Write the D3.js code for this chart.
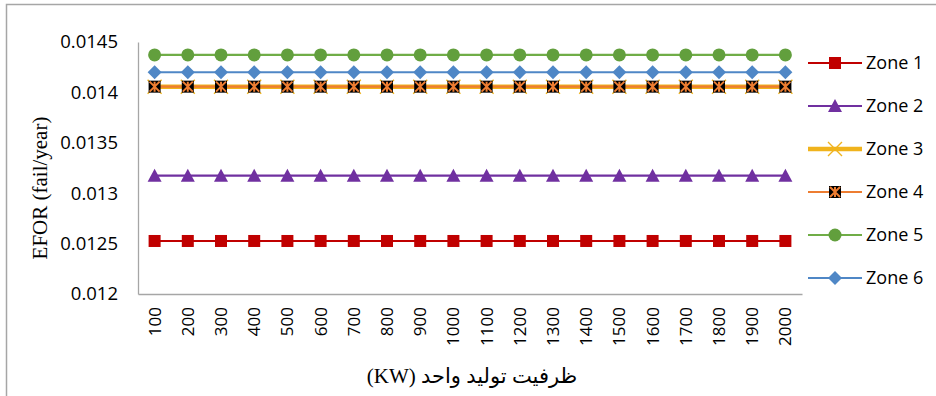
<!DOCTYPE html>
<html>
<head>
<meta charset="utf-8">
<script src="https://cdn.jsdelivr.net/npm/d3@7"></script>
<style>
  html, body { margin: 0; padding: 0; background: #fff; }
  svg { display: block; }
  .tick text { font-family: "Open Sans", sans-serif; fill: #000; }
</style>
</head>
<body>
<svg id="chart" width="936" height="396"></svg>
<script>
// Unit capacity categories (KW)
const capacities = ["100","200","300","400","500","600","700","800","900","1000",
                    "1100","1200","1300","1400","1500","1600","1700","1800","1900","2000"];

// EFOR per zone (fail/year) for each capacity
const zone1 = [0.012526,0.012526,0.012526,0.012526,0.012526,0.012526,0.012526,0.012526,0.012526,0.012526,
               0.012526,0.012526,0.012526,0.012526,0.012526,0.012526,0.012526,0.012526,0.012526,0.012526];
const zone2 = [0.013174,0.013174,0.013174,0.013174,0.013174,0.013174,0.013174,0.013174,0.013174,0.013174,
               0.013174,0.013174,0.013174,0.013174,0.013174,0.013174,0.013174,0.013174,0.013174,0.013174];
const zone3 = [0.014057,0.014057,0.014057,0.014057,0.014057,0.014057,0.014057,0.014057,0.014057,0.014057,
               0.014057,0.014057,0.014057,0.014057,0.014057,0.014057,0.014057,0.014057,0.014057,0.014057];
const zone4 = [0.014057,0.014057,0.014057,0.014057,0.014057,0.014057,0.014057,0.014057,0.014057,0.014057,
               0.014057,0.014057,0.014057,0.014057,0.014057,0.014057,0.014057,0.014057,0.014057,0.014057];
const zone5 = [0.014372,0.014372,0.014372,0.014372,0.014372,0.014372,0.014372,0.014372,0.014372,0.014372,
               0.014372,0.014372,0.014372,0.014372,0.014372,0.014372,0.014372,0.014372,0.014372,0.014372];
const zone6 = [0.014200,0.014200,0.014200,0.014200,0.014200,0.014200,0.014200,0.014200,0.014200,0.014200,
               0.014200,0.014200,0.014200,0.014200,0.014200,0.014200,0.014200,0.014200,0.014200,0.014200];

const yTicks = [0.012, 0.0125, 0.013, 0.0135, 0.014, 0.0145];
const yTickLabels = ["0.012", "0.0125", "0.013", "0.0135", "0.014", "0.0145"];

const seriesNames = ["Zone 1", "Zone 2", "Zone 3", "Zone 4", "Zone 5", "Zone 6"];

const series = [
  { name: seriesNames[0], values: zone1, color: "#c00000", width: 2.2, marker: "square" },
  { name: seriesNames[1], values: zone2, color: "#7030a0", width: 2.2, marker: "triangle" },
  { name: seriesNames[2], values: zone3, color: "#f0b31c", width: 4.5, marker: "x" },
  { name: seriesNames[3], values: zone4, color: "#ed7d31", width: 2.2, marker: "boxstar" },
  { name: seriesNames[4], values: zone5, color: "#70ad47", width: 2.2, marker: "circle" },
  { name: seriesNames[5], values: zone6, color: "#4f87c6", width: 2.2, marker: "diamond" }
];

const svg = d3.select("#chart");
const margin = { left: 138, top: 42, right: 802, bottom: 294 };

// Outer frame (top and left edges visible)
svg.append("path")
  .attr("d", "M6.5,396 L6.5,4.5 L936,4.5")
  .attr("fill", "none").attr("stroke", "#a6a6a6").attr("stroke-width", 1.5);

const x = d3.scaleBand().domain(capacities).range([margin.left, margin.right]);
const y = d3.scaleLinear().domain([0.012, 0.0145]).range([margin.bottom, margin.top]);
const cx = c => x(c) + x.bandwidth() / 2;

// Y axis
const yAxis = svg.append("g")
  .attr("transform", `translate(${margin.left},0)`)
  .call(d3.axisLeft(y).tickValues(yTicks)
        .tickFormat((d, i) => yTickLabels[i]).tickSize(0).tickPadding(20));
yAxis.select(".domain").attr("stroke", "#a6a6a6").attr("stroke-width", 1.3);
yAxis.selectAll(".tick text").style("font-size", "18.5px");

// X axis
const xAxis = svg.append("g")
  .attr("transform", `translate(0,${margin.bottom})`)
  .call(d3.axisBottom(x).tickSize(0).tickPadding(0));
xAxis.select(".domain").attr("stroke", "#a6a6a6").attr("stroke-width", 1.3);
xAxis.selectAll(".tick text")
  .style("font-size", "17px")
  .attr("text-anchor", "end")
  .attr("dy", "0.35em")
  .attr("transform", "translate(0,13) rotate(-90)")
  .attr("x", 0).attr("y", 0);

// Axis titles
svg.append("text")
  .attr("transform", "translate(47,188) rotate(-90)")
  .attr("text-anchor", "middle")
  .style("font-family", "'Liberation Serif', 'Times New Roman', serif")
  .style("font-size", "21px")
  .text("EFOR (fail/year)");

svg.append("text")
  .attr("x", 472).attr("y", 383)
  .attr("text-anchor", "middle")
  .attr("direction", "rtl")
  .style("font-family", "'Liberation Serif', 'DejaVu Sans', serif")
  .style("font-size", "21px")
  .text("ظرفیت تولید واحد (KW)");

// Marker drawing
function drawMarker(g, type, color, px, py) {
  if (type === "square") {
    g.append("rect").attr("x", px - 6).attr("y", py - 6).attr("width", 12).attr("height", 12)
      .attr("fill", color);
  } else if (type === "triangle") {
    g.append("path").attr("d", `M${px},${py - 7} L${px + 7},${py + 6} L${px - 7},${py + 6} Z`)
      .attr("fill", color);
  } else if (type === "circle") {
    g.append("circle").attr("cx", px).attr("cy", py).attr("r", 6.5).attr("fill", "#629f3d");
  } else if (type === "diamond") {
    g.append("path").attr("d", `M${px},${py - 7} L${px + 7},${py} L${px},${py + 7} L${px - 7},${py} Z`)
      .attr("fill", color);
  } else if (type === "x") {
    g.append("path").attr("d", `M${px - 7},${py - 7} L${px + 7},${py + 7} M${px + 7},${py - 7} L${px - 7},${py + 7}`)
      .attr("stroke", color).attr("stroke-width", 1.4).attr("fill", "none");
  } else if (type === "boxstar") {
    g.append("rect").attr("x", px - 6).attr("y", py - 6).attr("width", 12).attr("height", 12)
      .attr("fill", "#000");
    g.append("path").attr("d", `M${px - 5},${py - 5} L${px + 5},${py + 5} M${px + 5},${py - 5} L${px - 5},${py + 5} M${px},${py - 5} L${px},${py + 5}`)
      .attr("stroke", color).attr("stroke-width", 2).attr("fill", "none");
  }
}

const line = d3.line().x((d, i) => cx(capacities[i])).y(d => y(d));

series.forEach(s => {
  const g = svg.append("g");
  g.append("path").datum(s.values)
    .attr("d", line).attr("fill", "none")
    .attr("stroke", s.color).attr("stroke-width", s.width);
  s.values.forEach((v, i) => drawMarker(g, s.marker, s.color, cx(capacities[i]), y(v)));
});

// Legend
const legend = svg.append("g");
series.forEach((s, i) => {
  const ly = 63 + i * 43;
  const g = legend.append("g");
  g.append("line").attr("x1", 808).attr("x2", 862).attr("y1", ly).attr("y2", ly)
    .attr("stroke", s.color).attr("stroke-width", s.width);
  drawMarker(g, s.marker, s.color, 835, ly);
  g.append("text").attr("x", 866).attr("y", ly).attr("dy", "0.35em")
    .style("font-family", "'Open Sans', sans-serif").style("font-size", "18px")
    .text(s.name);
});
</script>
</body>
</html>
